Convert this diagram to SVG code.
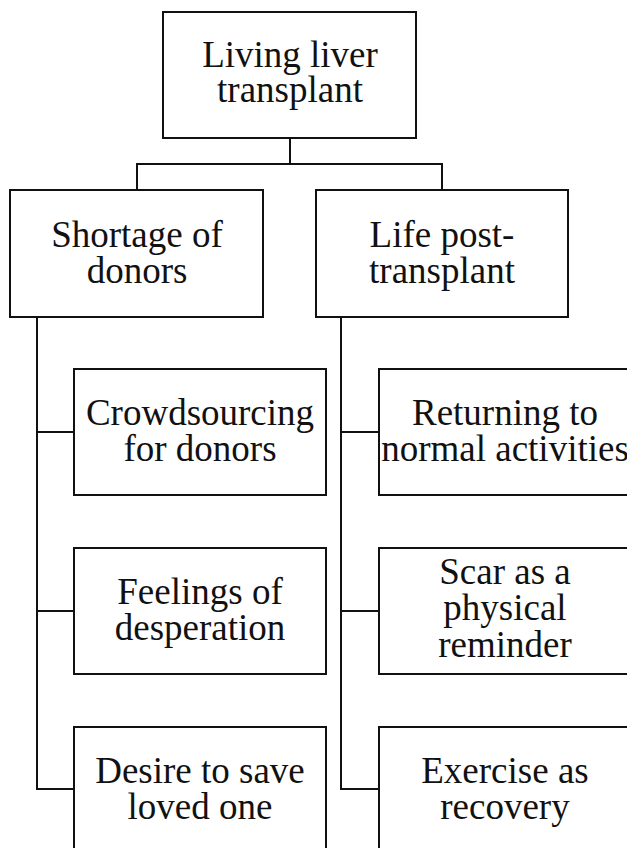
<svg xmlns="http://www.w3.org/2000/svg" width="627" height="848" viewBox="0 0 627 848">
<style>
.box{fill:#fff;stroke:#111;stroke-width:2}
.t{font-family:"Liberation Serif","Times New Roman",serif;font-size:37px;fill:#111;text-anchor:middle}
.c{fill:none;stroke:#111;stroke-width:2}
</style>
<rect width="627" height="848" fill="#fff"/>
<g id="connectors">
<path class="c" d="M290 138V164M137 190V164H442V190"/>
<path class="c" d="M37 317V789H74M37 432H74M37 611H74"/>
<path class="c" d="M341 317V789H379M341 432H379M341 611H379"/>
</g>
<g id="n-root"><rect class="box" x="163" y="12" width="253" height="126"/><text class="t" x="290" y="67">Living liver</text><text class="t" x="290" y="102">transplant</text></g>
<g id="n-shortage"><rect class="box" x="10" y="190" width="253" height="127"/><text class="t" x="137" y="247">Shortage of</text><text class="t" x="137" y="283">donors</text></g>
<g id="n-life"><rect class="box" x="316" y="190" width="252" height="127"/><text class="t" x="442" y="247">Life post-</text><text class="t" x="442" y="283">transplant</text></g>
<g id="n-crowd"><rect class="box" x="74" y="369" width="252" height="126"/><text class="t" x="200" y="425">Crowdsourcing</text><text class="t" x="200" y="461">for donors</text></g>
<g id="n-feel"><rect class="box" x="74" y="548" width="252" height="126"/><text class="t" x="200" y="604">Feelings of</text><text class="t" x="200" y="640">desperation</text></g>
<g id="n-desire"><rect class="box" x="74" y="727" width="252" height="126"/><text class="t" x="200" y="783">Desire to save</text><text class="t" x="200" y="819">loved one</text></g>
<g id="n-return"><rect class="box" x="379" y="369" width="252" height="126"/><text class="t" x="505" y="425">Returning to</text><text class="t" x="505" y="461">normal activities</text></g>
<g id="n-scar"><rect class="box" x="379" y="548" width="252" height="126"/><text class="t" x="505" y="584">Scar as a</text><text class="t" x="505" y="620">physical</text><text class="t" x="505" y="657">reminder</text></g>
<g id="n-exercise"><rect class="box" x="379" y="727" width="252" height="126"/><text class="t" x="505" y="783">Exercise as</text><text class="t" x="505" y="819">recovery</text></g>
</svg>
